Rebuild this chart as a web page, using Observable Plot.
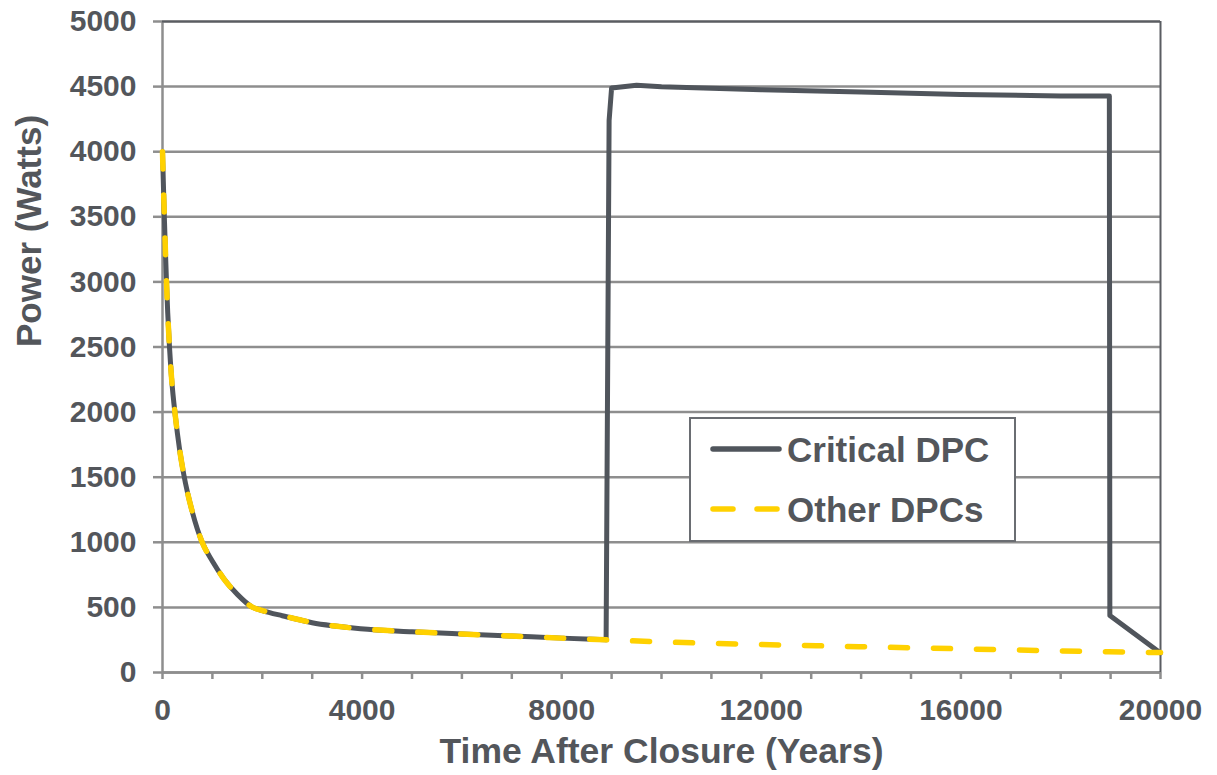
<!DOCTYPE html>
<html>
<head>
<meta charset="utf-8">
<script src="https://cdn.jsdelivr.net/npm/d3@7"></script>
<script src="https://cdn.jsdelivr.net/npm/@observablehq/plot@0.6"></script>
<style>
  html, body { margin: 0; padding: 0; background: #fff; }
  #chart { position: relative; width: 1217px; height: 775px; }
</style>
</head>
<body>
<div id="chart"></div>
<script>
// ---- Data ----
const seriesNames = ["Critical DPC", "Other DPCs"];
const xTitle = "Time After Closure (Years)";
const yTitle = "Power (Watts)";

const xTicks = [0, 4000, 8000, 12000, 16000, 20000];
const xMinorTicks = [0, 1000, 2000, 3000, 4000, 5000, 6000, 7000, 8000, 9000, 10000,
  11000, 12000, 13000, 14000, 15000, 16000, 17000, 18000, 19000, 20000];
const yTicks = [0, 500, 1000, 1500, 2000, 2500, 3000, 3500, 4000, 4500, 5000];

// Other DPCs (decay curve, shared by the critical DPC up to the jump)
const otherYears = [0, 20, 40, 60, 80, 105, 140, 180, 260, 340, 427, 600, 795, 1000, 1229,
  1500, 1800, 2000, 2400, 2766, 3000, 3500, 3968, 5000, 6000, 7000, 8000, 8890,
  10000, 12000, 14000, 16000, 18000, 20000];
const otherPower = [4000, 3720, 3460, 3220, 3000, 2760, 2500, 2270, 1960, 1720, 1520, 1230,
  1000, 855, 720, 600, 502, 476, 436, 403, 382, 355, 336, 313, 296, 280, 264, 251,
  235, 215, 198, 182, 166, 153];

// Critical DPC: after the shared decay (to 8890 years) the spike follows
const criticalDecayEnd = 8890;
const spikeYears = [8890, 8950, 9000, 9500, 10000, 12000, 14000, 16000, 18000, 18975, 18985, 20000];
const spikePower = [251, 4240, 4490, 4510, 4498, 4476, 4458, 4440, 4428, 4428, 437, 150];

// ---- Styling ----
const textColor = "#53565b";
const gridColor = "#8e8e8e";
const darkLine = "#50555c";
const yellow = "#ffd100";
const font = "'Liberation Sans', Arial, Helvetica, sans-serif";

const other = otherYears.map((x, i) => ({x, y: otherPower[i]}));
const criticalDecay = other.filter(d => d.x <= criticalDecayEnd);
const spike = spikeYears.map((x, i) => ({x, y: spikePower[i]}));

const plot = Plot.plot({
  width: 1217,
  height: 775,
  marginLeft: 162,
  marginRight: 57,
  marginTop: 21,
  marginBottom: 103,
  style: {fontFamily: font, fontWeight: "bold", color: textColor, background: "#fff"},
  x: {domain: [0, 20000]},
  y: {domain: [0, 5000]},
  marks: [
    Plot.gridY(yTicks, {stroke: gridColor, strokeOpacity: 1, strokeWidth: 2.5}),
    Plot.ruleX([0], {stroke: gridColor, strokeWidth: 2.5}),
    Plot.ruleY([0], {stroke: gridColor, strokeWidth: 2.5}),
    Plot.ruleY([5000], {stroke: "#5a5d62", strokeWidth: 2}),
    Plot.ruleX([20000], {stroke: "#5a5d62", strokeWidth: 2}),
    Plot.axisY(yTicks, {tickSize: 9, tickPadding: 17, fontSize: 30, label: null,
      stroke: gridColor, strokeWidth: 2.5, fill: textColor, tickFormat: d => String(d)}),
    Plot.axisX(xMinorTicks, {tickSize: 7, tickFormat: () => "", label: null,
      stroke: gridColor, strokeWidth: 2.5}),
    Plot.axisX(xTicks, {tickSize: 0, tickPadding: 26, fontSize: 30, label: null,
      fill: textColor, tickFormat: d => String(d)}),
    Plot.line(criticalDecay, {x: "x", y: "y", stroke: darkLine, strokeWidth: 5,
      curve: "monotone-x", strokeLinejoin: "round", strokeLinecap: "round"}),
    Plot.line(spike, {x: "x", y: "y", stroke: darkLine, strokeWidth: 5,
      curve: "linear", strokeLinejoin: "round", strokeLinecap: "round"}),
    Plot.line(other, {x: "x", y: "y", stroke: yellow, strokeWidth: 5.5,
      curve: "monotone-x", strokeDasharray: "17,26", strokeLinecap: "round"}),
    Plot.text([xTitle], {frameAnchor: "bottom", dy: 79, fontSize: 35.5, fill: textColor,
      fontWeight: "bold", lineAnchor: "middle"}),
    Plot.text([yTitle], {frameAnchor: "left", dx: -133, rotate: -90, fontSize: 35,
      fill: textColor, fontWeight: "bold", lineAnchor: "middle"})
  ]
});

document.getElementById("chart").appendChild(plot);

// ---- Legend (inside the plot area) ----
const svg = d3.select(plot);
const lg = svg.append("g").attr("font-family", font).attr("font-weight", "bold")
  .attr("text-anchor", "start");
lg.append("rect").attr("x", 690).attr("y", 418).attr("width", 325).attr("height", 123)
  .attr("fill", "#fff").attr("stroke", "#6a6d72").attr("stroke-width", 2);
const items = [
  {name: seriesNames[0], stroke: darkLine, dash: null, cy: 449},
  {name: seriesNames[1], stroke: yellow, dash: "20,24", cy: 509}
];
items.forEach(it => {
  const l = lg.append("line").attr("x1", 713).attr("x2", 779)
    .attr("y1", it.cy).attr("y2", it.cy)
    .attr("stroke", it.stroke).attr("stroke-width", 5.5).attr("stroke-linecap", "round");
  if (it.dash) l.attr("stroke-dasharray", it.dash);
  lg.append("text").attr("x", 787).attr("y", it.cy).attr("dy", "0.36em")
    .attr("text-anchor", "start")
    .attr("font-size", 35).attr("fill", textColor).text(it.name);
});
</script>
</body>
</html>
